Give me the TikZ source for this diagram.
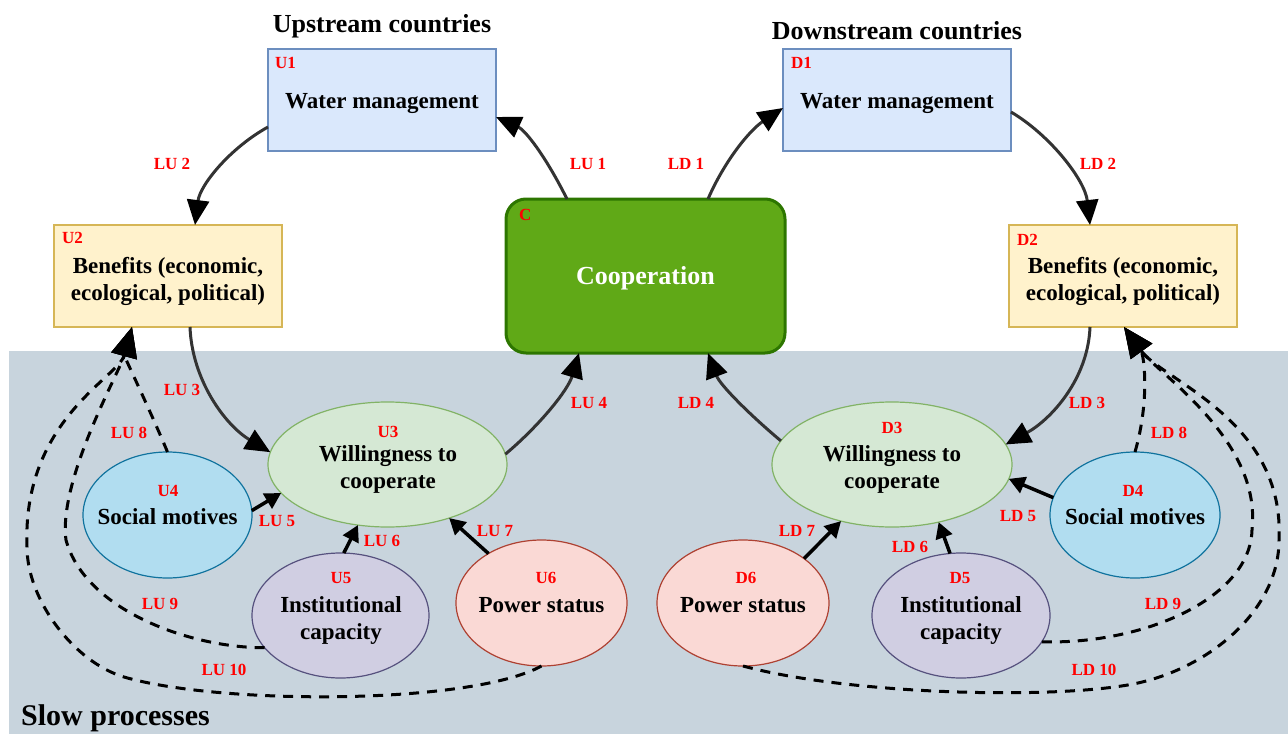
\documentclass[tikz,border=0pt]{standalone}
\usepackage{fontspec}
\setmainfont{Liberation Serif}
\usetikzlibrary{shapes.geometric,arrows.meta,calc}
\definecolor{slowbg}{RGB}{200,212,221}
\definecolor{wmfill}{HTML}{DAE8FC}
\definecolor{wmdraw}{HTML}{6C8EBF}
\definecolor{bnfill}{HTML}{FFF2CC}
\definecolor{bndraw}{HTML}{D6B656}
\definecolor{cofill}{HTML}{60A917}
\definecolor{codraw}{HTML}{2D7600}
\definecolor{wifill}{HTML}{D5E8D4}
\definecolor{widraw}{HTML}{82B366}
\definecolor{smfill}{HTML}{B1DDF0}
\definecolor{smdraw}{HTML}{10739E}
\definecolor{icfill}{HTML}{D0CEE2}
\definecolor{icdraw}{HTML}{56517E}
\definecolor{psfill}{HTML}{FAD9D5}
\definecolor{psdraw}{HTML}{AE4132}
\definecolor{tagred}{HTML}{FF0000}
\definecolor{flowgray}{HTML}{333333}
\begin{document}
\begin{tikzpicture}[x=1pt,y=-1pt,
  box/.style={draw, rectangle, line width=2pt, inner sep=0pt, outer sep=0pt},
  ell/.style={draw, ellipse, line width=1.2pt, inner sep=0pt, outer sep=0pt},
  txt/.style={inner sep=0pt, align=center, font=\fontsize{23}{27}\selectfont\bfseries},
  tag/.style={text=tagred, inner sep=0pt, font=\fontsize{17}{20}\selectfont\bfseries},
  lab/.style={text=tagred, inner sep=0pt, font=\fontsize{17}{20}\selectfont\bfseries},
  heading/.style={inner sep=0pt, font=\fontsize{26}{30}\selectfont\bfseries},
  flow/.style={draw=flowgray, line width=3pt, -{Triangle[length=25pt,width=22pt,color=black]}},
  push/.style={draw=black, line width=3.5pt, -{Triangle[length=16pt,width=17pt]}},
  slow/.style={draw=black, line width=3pt, dash pattern=on 10pt off 8pt, -{Triangle[length=30pt,width=26pt]}},
]
\useasboundingbox (0,0) rectangle (1288,734);
\fill[slowbg] (9,351) rectangle (1288,734);
\node[inner sep=0pt, anchor=base west, font=\fontsize{30}{34}\selectfont\bfseries] (slowtxt) at (21,725) {Slow processes};

% headings
\node[heading, anchor=base] (uph) at (382,32) {Upstream countries};
\node[heading, anchor=base] (dnh) at (897,39) {Downstream countries};

% boxes
\node[box, fill=wmfill, draw=wmdraw, minimum width=228pt, minimum height=102pt] (u1) at (382,100) {};
\node[box, fill=wmfill, draw=wmdraw, minimum width=228pt, minimum height=102pt] (d1) at (897,100) {};
\node[box, fill=bnfill, draw=bndraw, minimum width=228pt, minimum height=102pt] (u2) at (168,276) {};
\node[box, fill=bnfill, draw=bndraw, minimum width=228pt, minimum height=102pt] (d2) at (1123,276) {};
\node[box, fill=cofill, draw=codraw, line width=3pt, rounded corners=20pt, minimum width=279pt, minimum height=154pt] (c) at (645.5,276) {};

\node[txt] (u1x) at (382,104) {Water management};
\node[txt] (d1x) at (897,104) {Water management};
\node[txt] (u2x) at (168,281) {Benefits (economic,\\ecological, political)};
\node[txt] (d2x) at (1123,281) {Benefits (economic,\\ecological, political)};
\node[txt, text=white, font=\fontsize{26}{30}\selectfont\bfseries] (cx) at (645.5,278) {Cooperation};

% ellipses
\node[ell, fill=wifill, draw=widraw, minimum width=239pt, minimum height=125pt] (u3) at (387.5,464.5) {};
\node[ell, fill=wifill, draw=widraw, minimum width=240pt, minimum height=125pt] (d3) at (892,464.5) {};
\node[ell, fill=smfill, draw=smdraw, minimum width=169pt, minimum height=126pt] (u4) at (167.5,515) {};
\node[ell, fill=smfill, draw=smdraw, minimum width=170pt, minimum height=126pt] (d4) at (1135,515) {};
\node[ell, fill=icfill, draw=icdraw, minimum width=177pt, minimum height=125pt] (u5) at (340.5,615.5) {};
\node[ell, fill=icfill, draw=icdraw, minimum width=178pt, minimum height=125pt] (d5) at (961,615.5) {};
\node[ell, fill=psfill, draw=psdraw, minimum width=171pt, minimum height=126pt] (u6) at (541.5,603) {};
\node[ell, fill=psfill, draw=psdraw, minimum width=172pt, minimum height=126pt] (d6) at (743,603) {};

\node[txt] (u3x) at (388,469) {Willingness to\\cooperate};
\node[txt] (d3x) at (892,469) {Willingness to\\cooperate};
\node[txt] (u4x) at (167.5,517) {Social motives};
\node[txt] (d4x) at (1135,517) {Social motives};
\node[txt] (u5x) at (341,620) {Institutional\\capacity};
\node[txt] (d5x) at (961,620) {Institutional\\capacity};
\node[txt] (u6x) at (541.5,605) {Power status};
\node[txt] (d6x) at (743,605) {Power status};

% tags
\node[tag, anchor=west] (u1t) at (275,63) {U1};
\node[tag, anchor=west] (d1t) at (791,63) {D1};
\node[tag, anchor=west] (u2t) at (62,238) {U2};
\node[tag, anchor=west] (d2t) at (1017,240) {D2};
\node[tag, anchor=west] (ct) at (519,215) {C};
\node[tag] (u3t) at (388,432) {U3};
\node[tag] (d3t) at (892,428) {D3};
\node[tag] (u4t) at (168,491) {U4};
\node[tag] (d4t) at (1133,491) {D4};
\node[tag] (u5t) at (341,578) {U5};
\node[tag] (d5t) at (960,578) {D5};
\node[tag] (u6t) at (546,578) {U6};
\node[tag] (d6t) at (746,578) {D6};

% fast loop connectors
\draw[flow] ($(c.north west)+(61,0)$) .. controls (545,155) and (525,130) .. ($(u1.north east)+(0,68)$);
\draw[flow] ($(c.north west)+(202,0)$) .. controls (725,160) and (750,130) .. ($(d1.north west)+(0,59)$);
\draw[flow] ($(u1.north west)+(0,78)$) .. controls (230,148) and (200,185) .. ($(u2.north west)+(141,0)$);
\draw[flow] ($(d1.north east)+(0,63)$) .. controls (1050,135) and (1085,180) .. ($(d2.north west)+(81,0)$);
\draw[flow] ($(u2.south west)+(136,0)$) .. controls (192,380) and (225,425) .. (u3.174);
\draw[flow] ($(d2.south west)+(81,0)$) .. controls (1088,380) and (1050,420) .. (d3.10);
\draw[flow] (u3.5.5) .. controls (540,425) and (568,390) .. ($(c.south west)+(73,0)$);
\draw[flow] (d3.168) .. controls (750,415) and (720,385) .. ($(c.south west)+(202,0)$);

% short influences
\draw[push] (u4.3) -- (u3.195);
\draw[push] (u5.87) -- (u3.244);
\draw[push] (u6.137) -- (u3.319);
\draw[push] (d4.168) -- (d3.353);
\draw[push] (d5.100) -- (d3.309);
\draw[push] (d6.36) -- (d3.228);

% slow feedbacks
\draw[slow] (u4.90) .. controls (150,410) and (124,356) .. ($(u2.south west)+(78,0)$);
\draw[slow] (u5.203) .. controls (190,648) and (85,610) .. (66,540) .. controls (58,480) and (120,371) .. ($(u2.south west)+(78,0)$);
\draw[slow] (u6.270) .. controls (470,705) and (220,705) .. (124,677) .. controls (74,662) and (27,600) .. (27,547) .. controls (22,420) and (118,378) .. ($(u2.south west)+(78,0)$);
\draw[slow] (d4.90) .. controls (1150,400) and (1144,355) .. ($(d2.south west)+(115,0)$);
\draw[slow] (d5.342) .. controls (1140,645) and (1250,600) .. (1252,530) .. controls (1262,440) and (1158,374) .. ($(d2.south west)+(115,0)$);
\draw[slow] (d6.270) .. controls (850,695) and (1060,700) .. (1138,683) .. controls (1210,667) and (1279,610) .. (1279,540) .. controls (1285,420) and (1163,381) .. ($(d2.south west)+(115,0)$);

% connector labels
\node[lab] (lu1) at (588,164) {LU 1};
\node[lab] (ld1) at (686,164) {LD 1};
\node[lab] (lu2) at (172,164) {LU 2};
\node[lab] (ld2) at (1098,164) {LD 2};
\node[lab] (lu3) at (182,390) {LU 3};
\node[lab] (ld3) at (1087,403) {LD 3};
\node[lab] (lu4) at (589,403) {LU 4};
\node[lab] (ld4) at (696,403) {LD 4};
\node[lab] (lu5) at (277,521) {LU 5};
\node[lab] (lu6) at (382,541) {LU 6};
\node[lab] (lu7) at (495,531) {LU 7};
\node[lab] (ld5) at (1018,516) {LD 5};
\node[lab] (ld6) at (910,547) {LD 6};
\node[lab] (ld7) at (797,531) {LD 7};
\node[lab] (lu8) at (129,433) {LU 8};
\node[lab] (ld8) at (1169,433) {LD 8};
\node[lab] (lu9) at (160,604) {LU 9};
\node[lab] (ld9) at (1163,604) {LD 9};
\node[lab] (lu10) at (224,670) {LU 10};
\node[lab] (ld10) at (1094,670) {LD 10};
\end{tikzpicture}
\end{document}
